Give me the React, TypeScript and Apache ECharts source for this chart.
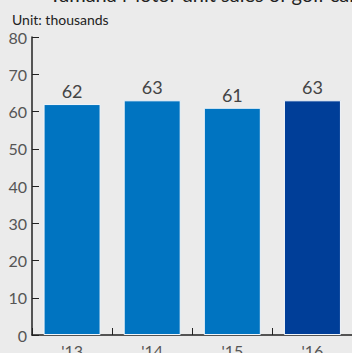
import React, { useEffect, useRef } from "react";
import * as echarts from "echarts";

const categories = ["'13", "'14", "'15", "'16"];
const values = [62, 63, 61, 63];
const barColors = ["#0074c1", "#0074c1", "#0074c1", "#003e98"];
const yTicks = { min: 0, max: 80, interval: 10 };
const unitLabel = "Unit: thousands";
const titleText = "Yamaha Motor unit sales of golf cars";

export default function App() {
  const ref = useRef<HTMLDivElement>(null);
  useEffect(() => {
    if (!ref.current) return;
    const chart = echarts.init(ref.current, null, { renderer: "svg" });
    const font = "Lato, 'Open Sans', sans-serif";
    chart.setOption({
      animation: false,
      backgroundColor: "#ebebeb",
      grid: { left: 32, top: 37, width: 320.5, height: 298, outerBoundsMode: "none", containLabel: false },
      graphic: [
        {
          type: "text",
          left: 49,
          top: -16,
          style: { text: titleText, fill: "#222", font: `20px ${font}` },
        },
        {
          type: "text",
          left: 12,
          top: 12,
          style: { text: unitLabel, fill: "#222", font: `14px ${font}` },
        },
      ],
      xAxis: {
        type: "category",
        data: categories,
        axisLine: { lineStyle: { color: "#222", width: 1.5 } },
        axisTick: { show: true, inside: true, length: 7, lineStyle: { color: "#222" } },
        axisLabel: { color: "#555", fontSize: 16, fontFamily: font, margin: 7 },
      },
      yAxis: {
        type: "value",
        min: yTicks.min,
        max: yTicks.max,
        interval: yTicks.interval,
        axisLine: { show: true, lineStyle: { color: "#222", width: 1.5 } },
        axisTick: { show: true, inside: true, length: 7, lineStyle: { color: "#222" } },
        splitLine: { show: false },
        axisLabel: { color: "#555", fontSize: 16, fontFamily: font, margin: 5 },
      },
      series: [
        {
          type: "bar",
          barWidth: 57,
          data: values.map((v, i) => ({ value: v, itemStyle: { color: barColors[i] } })),
          itemStyle: { borderColor: "#f2f6fa", borderWidth: 1 },
          label: {
            show: true,
            position: "top",
            distance: 4,
            color: "#444",
            fontSize: 18,
            fontFamily: font,
          },
        },
      ],
    });
    return () => chart.dispose();
  }, []);
  return <div ref={ref} style={{ position: "absolute", left: 0, top: 0, width: 352, height: 353 }} />;
}
